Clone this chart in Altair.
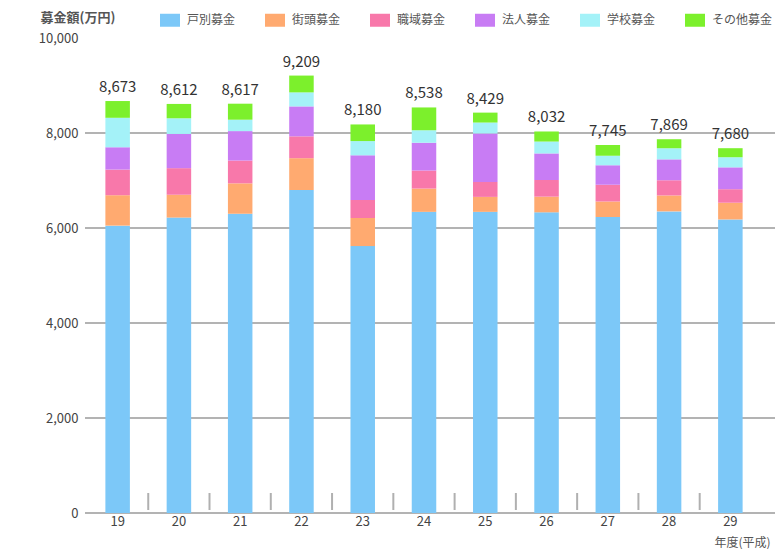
import altair as alt
import pandas as pd

years = ["19", "20", "21", "22", "23", "24", "25", "26", "27", "28", "29"]
totals = [8673, 8612, 8617, 9209, 8180, 8538, 8429, 8032, 7745, 7869, 7680]
categories = ["戸別募金", "街頭募金", "職域募金", "法人募金", "学校募金", "その他募金"]
colors = ["#7cc8f8", "#ffaa70", "#f878aa", "#c87cf4", "#a4f2f8", "#7cf02c"]

kobetsu = [6050, 6220, 6300, 6800, 5620, 6340, 6340, 6330, 6230, 6350, 6180]
gaito = [640, 480, 640, 670, 590, 490, 315, 330, 330, 335, 352]
shokuiki = [540, 560, 480, 460, 380, 380, 315, 350, 350, 320, 285]
hojin = [470, 720, 620, 630, 940, 585, 1020, 560, 410, 440, 460]
gakko = [620, 330, 240, 295, 300, 263, 230, 250, 200, 234, 213]
sonota = [353, 302, 337, 354, 350, 480, 209, 212, 225, 190, 190]

y_ticks = [0, 2000, 4000, 6000, 8000, 10000]
grid_values = [0, 2000, 4000, 6000, 8000]

series = [kobetsu, gaito, shokuiki, hojin, gakko, sonota]
rows = []
for ci, (cat, vals) in enumerate(zip(categories, series)):
    for yr, v in zip(years, vals):
        rows.append({"year": yr, "category": cat, "value": v, "order": ci})
df = pd.DataFrame(rows)
tot_df = pd.DataFrame({"year": years, "total": totals})
grid_df = pd.DataFrame({"v": grid_values})
sep_df = pd.DataFrame({"year": years[:-1]})

W, H = 674, 475
FONT = "Noto Sans CJK JP"

xscale = alt.Scale(domain=years, paddingInner=0.6, paddingOuter=0.3)
yscale = alt.Scale(domain=[0, 10000], nice=False)

grid = alt.Chart(grid_df).mark_rule(color="#9a9a9a", strokeWidth=1.5).encode(
    y=alt.Y("v:Q", scale=yscale),
    x=alt.value(-2),
    x2=alt.value(W + 14),
)

seps = alt.Chart(sep_df).mark_rule(color="#b0b0b0", strokeWidth=2, xOffset=30.6).encode(
    x=alt.X("year:N", scale=xscale),
    y=alt.value(H - 3),
    y2=alt.value(H - 20),
)

bars = alt.Chart(df).mark_bar().encode(
    x=alt.X(
        "year:N",
        scale=xscale,
        sort=years,
        axis=alt.Axis(
            labelAngle=0,
            domain=False,
            ticks=False,
            labelFontSize=13,
            labelColor="#444",
            labelPadding=2,
            title="年度(平成)",
            titleFontSize=12,
            titleFontWeight="normal",
            titleColor="#555",
            titleX=683,
            titleY=33,
            titleAlign="right",
            titleBaseline="alphabetic",
        ),
    ),
    y=alt.Y(
        "value:Q",
        stack="zero",
        scale=yscale,
        axis=alt.Axis(
            values=y_ticks,
            format=",d",
            domain=False,
            ticks=False,
            grid=False,
            labelFontSize=13,
            labelColor="#444",
            labelPadding=9,
            title="募金額(万円)",
            titleAngle=0,
            titleAlign="left",
            titleBaseline="middle",
            titleX=-47,
            titleY=-21,
            titleFontSize=13,
            titleFontWeight="bold",
            titleColor="#555",
        ),
    ),
    color=alt.Color(
        "category:N",
        scale=alt.Scale(domain=categories, range=colors),
        legend=alt.Legend(
            title=None,
            orient="none",
            legendX=73,
            legendY=-28,
            direction="horizontal",
            columns=6,
            symbolType="M-1,-0.65H1V0.65H-1Z",
            symbolSize=400,
            symbolStrokeWidth=0,
            symbolOpacity=1,
            labelFontSize=12,
            labelColor="#555",
            labelOffset=7,
            columnPadding=29,
        ),
    ),
    order=alt.Order("order:Q", sort="ascending"),
)

labels = alt.Chart(tot_df).mark_text(
    dy=-6, baseline="bottom", fontSize=15, color="#333"
).encode(
    x=alt.X("year:N", scale=xscale),
    y=alt.Y("total:Q", scale=yscale),
    text=alt.Text("total:Q", format=",d"),
)

chart = (
    alt.layer(grid, bars, seps, labels)
    .properties(
        width=W,
        height=H,
        autosize=alt.AutoSizeParams(type="none"),
        padding={"left": 87, "top": 38, "right": 14, "bottom": 36},
    )
    .configure(font=FONT)
    .configure_view(stroke=None)
)

chart.save("out.html", embed_options={"renderer": "svg", "actions": False})
